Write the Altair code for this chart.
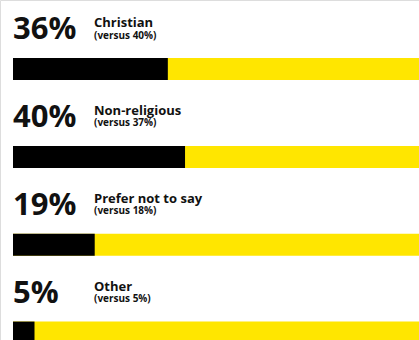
import altair as alt
import pandas as pd

categories = ["Christian", "Non-religious", "Prefer not to say", "Other"]
values = [36, 40, 19, 5]
previous = [40, 37, 18, 5]

df = pd.DataFrame({
    "row": list(range(len(categories))),
    "category": categories,
    "value": values,
    "previous": previous,
})
df["big"] = df["value"].astype(str) + "%"
df["sub"] = "(versus " + df["previous"].astype(str) + "%)"
df["zero"] = 0
df["full"] = 100

YELLOW = "#FFE600"
FONT = "Open Sans"

x = alt.X("zero:Q", scale=alt.Scale(domain=[0, 94.4], range=[13, 419]), axis=None)
y = alt.Y("row:Q", scale=alt.Scale(domain=[-66 / 90.5, (340 - 66) / 90.5], reverse=True, nice=False, zero=False), axis=None)

base = alt.Chart(df)

yellow = base.mark_bar(size=22, color=YELLOW, clip=True).encode(
    x=x, x2="full:Q", y=y
)
black = base.mark_bar(size=22, color="#000000").encode(
    x=x, x2="value:Q", y=y
)
big = base.mark_text(
    align="left", baseline="alphabetic", dy=-30, font=FONT, fontWeight="bold",
    fontSize=31, color="#111111"
).encode(x=x, y=y, text="big:N")
label = base.mark_text(
    align="left", baseline="alphabetic", dx=81, dy=-42, font=FONT, fontWeight="bold",
    fontSize=13, color="#111111"
).encode(x=x, y=y, text="category:N")
sub = base.mark_text(
    align="left", baseline="alphabetic", dx=81, dy=-30.5, font=FONT, fontWeight="bold",
    fontSize=10, color="#111111"
).encode(x=x, y=y, text="sub:N")

chart = alt.layer(yellow, black, big, label, sub).properties(
    width=419, height=340, padding=0, autosize=alt.AutoSizeParams(type="none")
).configure_view(stroke=None).configure(background="white")

chart.save("out.html", embed_options={"renderer": "svg", "actions": False})
